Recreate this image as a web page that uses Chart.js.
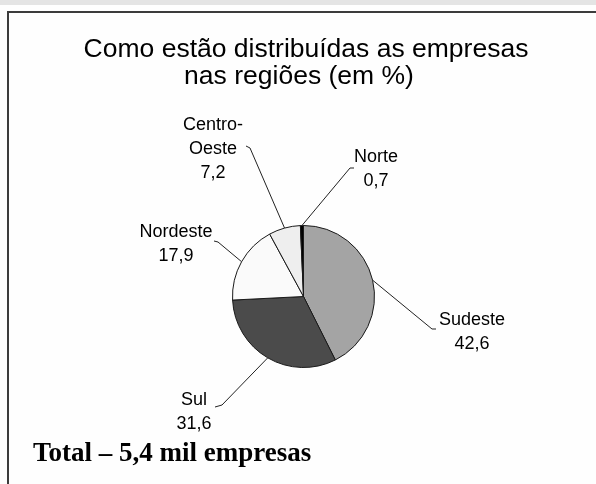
<!DOCTYPE html>
<html>
<head>
<meta charset="utf-8">
<script src="https://cdn.jsdelivr.net/npm/chart.js@4/dist/chart.umd.min.js"></script>
<style>
  html, body { margin: 0; padding: 0; background: #ffffff; }
  #wrap { position: relative; width: 596px; height: 484px; }
  canvas { display: block; }
</style>
</head>
<body>
<div id="wrap"><canvas id="c" width="596" height="484"></canvas></div>
<script>
// ---- data ----
const categories = ['Sudeste', 'Sul', 'Nordeste', 'Centro-Oeste', 'Norte'];
const values = [42.6, 31.6, 17.9, 7.2, 0.7];
const nameLines = [['Sudeste'], ['Sul'], ['Nordeste'], ['Centro-', 'Oeste'], ['Norte']];
const sliceColors = ['#a4a4a4', '#4b4b4b', '#fafafa', '#eeeeee', '#000000'];
const titleLines = ['Como estão distribuídas as empresas', 'nas regiões (em %)'];
const footnote = 'Total – 5,4 mil empresas';

// ---- label layout (text centre x, first baseline y, leader elbow and tick end) ----
const labelLayout = [
  { x: 472, y: 325, elbow: [432, 329], tick: [436, 329] },
  { x: 194, y: 405, elbow: [222, 405], tick: [215, 407] },
  { x: 176, y: 237, elbow: [218, 242], tick: [214, 241] },
  { x: 213, y: 130, elbow: [250, 148], tick: [246, 146] },
  { x: 376, y: 162, elbow: [350, 168], tick: [354, 168] }
];

function fmt(v) { return v.toFixed(1).replace('.', ','); }

const decor = {
  id: 'decor',
  beforeDraw(chart) {
    const ctx = chart.ctx;
    ctx.save();
    ctx.fillStyle = '#fefefe';
    ctx.fillRect(0, 0, 596, 484);
    ctx.fillStyle = '#e4e4e4';
    ctx.fillRect(0, 0, 596, 5);
    ctx.strokeStyle = '#3c3c3c';
    ctx.lineWidth = 2;
    ctx.beginPath();
    ctx.moveTo(8, 484);
    ctx.lineTo(8, 12);
    ctx.lineTo(596, 12);
    ctx.stroke();
    // title
    ctx.fillStyle = '#000';
    ctx.font = '26.5px "Liberation Sans", Arial, sans-serif';
    ctx.textAlign = 'center';
    ctx.textBaseline = 'alphabetic';
    ctx.fillText(titleLines[0], 306, 57);
    ctx.fillText(titleLines[1], 299, 84);
    // footnote
    ctx.textAlign = 'left';
    ctx.font = 'bold 27px "Liberation Serif", "Times New Roman", serif';
    ctx.fillText(footnote, 33, 461);
    ctx.restore();
  },
  afterDraw(chart) {
    const ctx = chart.ctx;
    const meta = chart.getDatasetMeta(0);
    ctx.save();
    meta.data.forEach((arc, i) => {
      const p = arc.getProps(['x', 'y', 'startAngle', 'endAngle', 'outerRadius'], true);
      const mid = (p.startAngle + p.endAngle) / 2;
      const sx = p.x + Math.cos(mid) * p.outerRadius;
      const sy = p.y + Math.sin(mid) * p.outerRadius;
      const L = labelLayout[i];
      ctx.strokeStyle = '#222';
      ctx.lineWidth = 1;
      ctx.beginPath();
      ctx.moveTo(sx, sy);
      ctx.lineTo(L.elbow[0], L.elbow[1]);
      ctx.lineTo(L.tick[0], L.tick[1]);
      ctx.stroke();
      ctx.fillStyle = '#000';
      ctx.font = '18px "Liberation Sans", Arial, sans-serif';
      ctx.textAlign = 'center';
      const lines = nameLines[i].concat([fmt(values[i])]);
      lines.forEach((t, k) => ctx.fillText(t, L.x, L.y + k * 24));
    });
    ctx.restore();
  }
};

new Chart(document.getElementById('c'), {
  type: 'pie',
  data: {
    labels: categories,
    datasets: [{
      data: values,
      backgroundColor: sliceColors,
      borderColor: '#1a1a1a',
      borderWidth: 1,
      hoverOffset: 0,
      offset: 0
    }]
  },
  options: {
    responsive: false,
    animation: false,
    devicePixelRatio: 1,
    events: [],
    layout: { padding: { left: 232, right: 221, top: 225, bottom: 116 } },
    plugins: { legend: { display: false }, tooltip: { enabled: false }, title: { display: false } }
  },
  plugins: [decor]
});
</script>
</body>
</html>
